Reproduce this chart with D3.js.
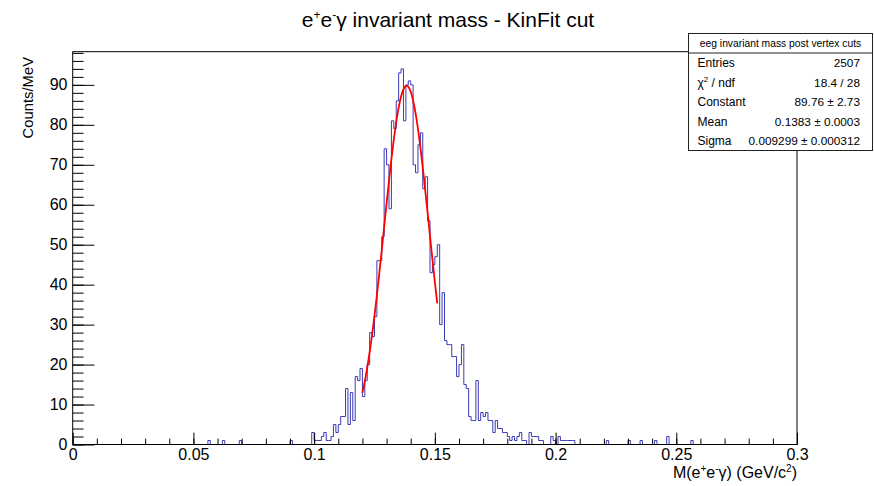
<!DOCTYPE html>
<html><head><meta charset="utf-8">
<script src="https://cdn.jsdelivr.net/npm/d3@7"></script>
<style>
body{margin:0;background:#fff}
svg{display:block;font-family:"Liberation Sans",Arial,Helvetica,sans-serif}
</style>
</head><body><svg id="c" width="874" height="486"></svg>
<script>
// ---- data ----
const histLow = 0, histHigh = 0.3, nBins = 300;          // GeV, 1 MeV bins
const coreFirstX = 0.099;                                  // low edge of first core bin (GeV)
const coreCounts = [
  3,1,1,1,2,3,1,1,2,5,        // 0.099-0.108
  3,5,7,7,14,5,13,6,17,16,    // 0.109-0.118
  19,12,16,20,28,27,32,46,46,52, // 0.119-0.128
  74,70,59,81,79,86,93,94,81,90, // 0.129-0.138
  91,90,70,68,75,78,64,67,56,43, // 0.139-0.148
  45,47,50,30,38,26,25,25,22,22, // 0.149-0.158
  17,20,25,15,14,7,6,6,16,6,     // 0.159-0.168
  8,7,8,6,6,3,6,4,4,3,           // 0.169-0.178
  3,2,1,2,1,2,3,1,1,0,           // 0.179-0.188
  3,2,2,2,1,1,0,0,0,2,           // 0.189-0.198
  1,0,2,1,1,1,1,1,1              // 0.199-0.207
];
const tailX      = [0.056,0.062,0.069,0.090,0.221,0.230,0.235,0.241,0.246,0.256];
const tailCounts = [1,1,1,1,1,1,1,1,2,1];

const xTickValues = [0,0.05,0.1,0.15,0.2,0.25,0.3];
const xTickLabels = ["0","0.05","0.1","0.15","0.2","0.25","0.3"];
const yTickValues = [0,10,20,30,40,50,60,70,80,90];
const yTickLabels = ["0","10","20","30","40","50","60","70","80","90"];

const fitConstant = 89.76, fitMean = 0.1383, fitSigma = 0.009299;
const fitRange = [0.12, 0.151];

const statsTitle = "eeg invariant mass post vertex cuts";
const statsNames  = ["Entries","χ2 / ndf","Constant","Mean","Sigma"];
const statsValues = ["2507","18.4 / 28","89.76 \u00b1 2.73","0.1383 \u00b1 0.0003","0.009299 \u00b1 0.000312"];

// ---- build histogram ----
const binW = (histHigh - histLow) / nBins;
const counts = new Array(nBins).fill(0);
coreCounts.forEach((c,k)=>{ counts[Math.round((coreFirstX - histLow)/binW) + k] = c; });
tailX.forEach((v,k)=>{ counts[Math.round((v - histLow)/binW)] = tailCounts[k]; });

// ---- layout ----
const svg = d3.select("#c");
const L = 72.7, R = 797, T = 51.7, B = 444.5;
const x = d3.scaleLinear().domain([histLow, histHigh]).range([L, R]);
const y = d3.scaleLinear().domain([0, 98.3]).range([B, T]);

// histogram step outline
const path = d3.path();
path.moveTo(x(histLow), y(0));
counts.forEach((c,i)=>{
  const lo = histLow + i*binW, hi = lo + binW;
  path.lineTo(x(lo), y(c));
  path.lineTo(x(hi), y(c));
});
path.lineTo(x(histHigh), y(0));
svg.append("path").attr("d", path.toString())
  .attr("fill","none").attr("stroke","#3a3ab4").attr("stroke-width",1);

// fit curve
const nPts = 200;
const fitPts = d3.range(nPts+1).map(k=>{
  const xv = fitRange[0] + k*(fitRange[1]-fitRange[0])/nPts;
  return [xv, fitConstant*Math.exp(-0.5*Math.pow((xv-fitMean)/fitSigma,2))];
});
svg.append("path").datum(fitPts)
  .attr("d", d3.line().x(d=>x(d[0])).y(d=>y(d[1])))
  .attr("fill","none").attr("stroke","#ff0000").attr("stroke-width",1.8);

// frame
svg.append("rect").attr("x",L).attr("y",T).attr("width",R-L).attr("height",B-T)
  .attr("fill","none").attr("stroke","#000").attr("stroke-width",1);

// x axis (major + minor)
const gx = svg.append("g").attr("transform",`translate(0,${B})`)
  .call(d3.axisBottom(x).tickValues(xTickValues).tickFormat((d,i)=>xTickLabels[i])
        .tickSizeInner(-11.8).tickSizeOuter(0).tickPadding(4.5));
gx.select(".domain").remove();
gx.selectAll("text").attr("font-size",16).attr("font-family","Liberation Sans, Arial, sans-serif").attr("fill","#000");
const gxm = svg.append("g").attr("transform",`translate(0,${B})`)
  .call(d3.axisBottom(x).tickValues(d3.range(0,31).map(k=>k/100)).tickFormat("")
        .tickSizeInner(-5.9).tickSizeOuter(0));
gxm.select(".domain").remove();

// y axis (major + minor)
const gy = svg.append("g").attr("transform",`translate(${L},0)`)
  .call(d3.axisLeft(y).tickValues(yTickValues).tickFormat((d,i)=>yTickLabels[i])
        .tickSizeInner(-21.7).tickSizeOuter(0).tickPadding(5.2));
gy.select(".domain").remove();
gy.selectAll("text").attr("font-size",16).attr("font-family","Liberation Sans, Arial, sans-serif").attr("fill","#000");
const gym = svg.append("g").attr("transform",`translate(${L},0)`)
  .call(d3.axisLeft(y).tickValues(d3.range(0,99,2)).tickFormat("")
        .tickSizeInner(-10.9).tickSizeOuter(0));
gym.select(".domain").remove();
svg.selectAll(".tick line").attr("stroke","#000").attr("stroke-width",1);

// title
const title = svg.append("text").attr("x",448).attr("y",27).attr("text-anchor","middle")
  .attr("font-size",21).attr("fill","#000");
title.append("tspan").text("e");
title.append("tspan").attr("font-size",12).attr("dy",-8).text("+");
title.append("tspan").attr("dy",8).text("e");
title.append("tspan").attr("font-size",12).attr("dy",-8).text("-");
title.append("tspan").attr("dy",8).text("γ invariant mass - KinFit cut");

// y axis title
svg.append("text").attr("transform",`translate(33,57) rotate(-90)`)
  .attr("text-anchor","end").attr("font-size",14.8).attr("fill","#000").text("Counts/MeV");

// x axis title
const xt = svg.append("text").attr("x",R).attr("y",478).attr("text-anchor","end")
  .attr("font-size",16).attr("fill","#000");
xt.append("tspan").text("M(e");
xt.append("tspan").attr("font-size",10).attr("dy",-6).text("+");
xt.append("tspan").attr("dy",6).text("e");
xt.append("tspan").attr("font-size",10).attr("dy",-6).text("-");
xt.append("tspan").attr("dy",6).text("γ) (GeV/c");
xt.append("tspan").attr("font-size",10).attr("dy",-6).text("2");
xt.append("tspan").attr("dy",6).text(")");

// stats box
const sb = {x:688.5, y:33.5, w:184, h:117};
const g = svg.append("g");
g.append("rect").attr("x",sb.x).attr("y",sb.y).attr("width",sb.w).attr("height",sb.h)
  .attr("fill","#fff").attr("stroke","#222").attr("stroke-width",1);
const lh = sb.h/6;
g.append("line").attr("x1",sb.x).attr("x2",sb.x+sb.w).attr("y1",sb.y+lh).attr("y2",sb.y+lh)
  .attr("stroke","#222").attr("stroke-width",1);
g.append("text").attr("x",sb.x+sb.w/2).attr("y",sb.y+lh*0.5+3.8).attr("text-anchor","middle")
  .attr("font-size",10.3).attr("fill","#000").text(statsTitle);
statsNames.forEach((n,i)=>{
  const cy = sb.y + lh*(i+1.5) + 4.6;
  const t = g.append("text").attr("x",sb.x+9).attr("y",cy).attr("font-size",12).attr("fill","#000");
  if(n.startsWith("χ2")){
    t.append("tspan").text("χ");
    t.append("tspan").attr("font-size",8).attr("dy",-4.5).text("2");
    t.append("tspan").attr("dy",4.5).text(" / ndf");
  } else t.text(n);
  g.append("text").attr("x",sb.x+sb.w-12.5).attr("y",cy).attr("text-anchor","end")
    .attr("font-size",11.8).attr("fill","#000").text(statsValues[i]);
});
</script>
</body></html>
